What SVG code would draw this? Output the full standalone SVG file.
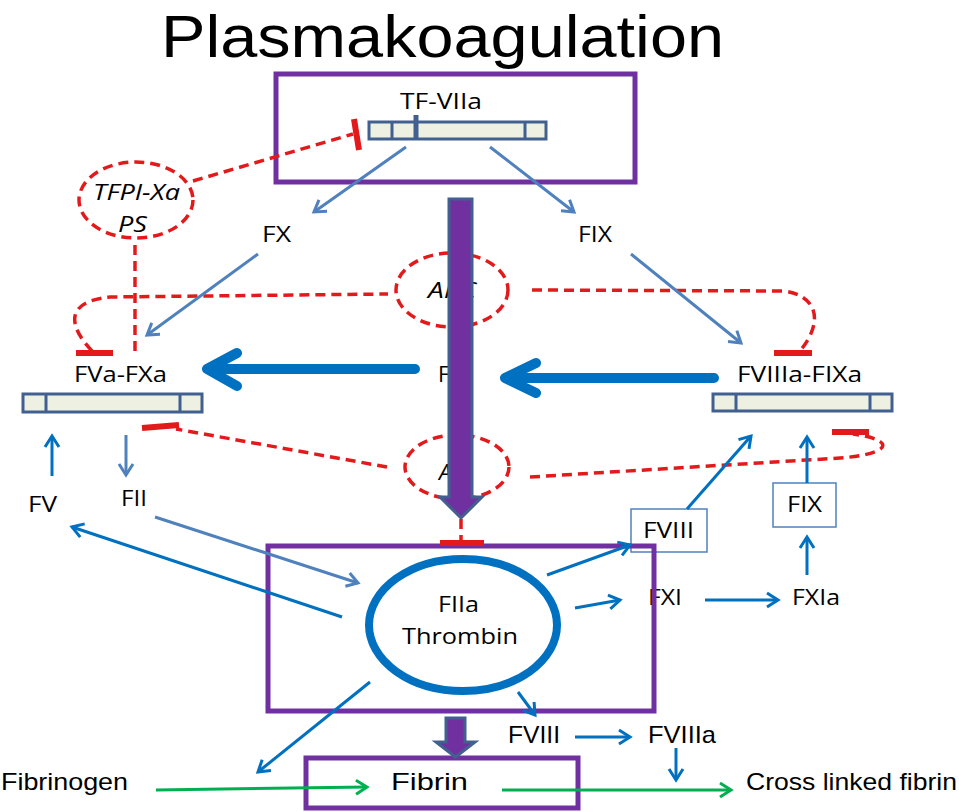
<svg xmlns="http://www.w3.org/2000/svg" width="959" height="812" viewBox="0 0 959 812">
<style>
.t{font-family:"Open Sans","Liberation Sans",sans-serif;font-size:22px;fill:#000}
.c{font-family:"Liberation Sans",sans-serif;font-size:24px;fill:#000}
.it{font-style:italic}
.pbox{fill:none;stroke:#7030A0;stroke-width:5}
.bar{fill:#EEF0E2;stroke:#41608F;stroke-width:3}
.div{stroke:#41608F;stroke-width:3}
.red{fill:none;stroke:#E31A1C;stroke-width:3.5;stroke-dasharray:10 6}
.inh{fill:#E31A1C;stroke:none}
.sb{fill:none;stroke:#4F81BD;stroke-width:3}
.bl{fill:none;stroke:#0070C0;stroke-width:3}
.gr{fill:none;stroke:#00B050;stroke-width:3}
.big{fill:none;stroke:#0070C0;stroke-width:10;stroke-linecap:round;stroke-linejoin:round}
.parr{fill:#7030A0;stroke:#41608F;stroke-width:3}
.sbox{fill:#fff;stroke:#4F81BD;stroke-width:1.5}
</style>
<defs>
<marker id="hsb" markerUnits="userSpaceOnUse" markerWidth="18" markerHeight="18" refX="14" refY="9" orient="auto"><path d="M3,2 L14,9 L3,16" fill="none" stroke="#4F81BD" stroke-width="3"/></marker>
<marker id="hbl" markerUnits="userSpaceOnUse" markerWidth="18" markerHeight="18" refX="14" refY="9" orient="auto"><path d="M3,2 L14,9 L3,16" fill="none" stroke="#0070C0" stroke-width="3"/></marker>
<marker id="hgr" markerUnits="userSpaceOnUse" markerWidth="18" markerHeight="18" refX="14" refY="9" orient="auto"><path d="M3,2 L14,9 L3,16" fill="none" stroke="#00B050" stroke-width="3"/></marker>
</defs>
<rect width="959" height="812" fill="#fff"/>
<text x="161" y="57" font-family="Liberation Sans, sans-serif" font-size="60" textLength="563" lengthAdjust="spacingAndGlyphs">Plasmakoagulation</text>

<g id="tf-viia">
<rect class="pbox" x="276" y="74" width="359" height="108"/>
<text class="t" x="400" y="109" textLength="82" lengthAdjust="spacingAndGlyphs">TF-VIIa</text>
<rect class="bar" x="369" y="122" width="177" height="17"/>
<line class="div" x1="392" y1="122" x2="392" y2="139"/>
<line class="div" x1="525" y1="122" x2="525" y2="139"/>
<line x1="416" y1="115" x2="416" y2="139" stroke="#41608F" stroke-width="5"/>
</g>
<g id="tfpi">
<ellipse class="red" cx="136" cy="200" rx="57" ry="38"/>
<text class="t it" x="93" y="200" textLength="87" lengthAdjust="spacingAndGlyphs">TFPI-Xa</text>
<text class="t it" x="118" y="232" textLength="29" lengthAdjust="spacingAndGlyphs">PS</text>
</g>
<g id="apc1">
<ellipse class="red" cx="452" cy="290" rx="56" ry="37"/>
<text class="t it" x="428" y="298" textLength="48" lengthAdjust="spacingAndGlyphs">APC</text>
</g>
<g id="apc2">
<ellipse class="red" cx="457" cy="467" rx="52" ry="32"/>
<text class="t it" x="439" y="480">A</text>
</g>
<g id="f-mid"><text class="t" x="438" y="382">F</text></g>
<g id="fx"><text class="t" x="262" y="242" textLength="29" lengthAdjust="spacingAndGlyphs">FX</text></g>
<g id="fix"><text class="t" x="578" y="242" textLength="34" lengthAdjust="spacingAndGlyphs">FIX</text></g>
<g id="fva-fxa">
<text class="t" x="74" y="382" textLength="93" lengthAdjust="spacingAndGlyphs">FVa-FXa</text>
<rect class="bar" x="23" y="394" width="179" height="18"/>
<line class="div" x1="46" y1="394" x2="46" y2="412"/>
<line class="div" x1="180" y1="394" x2="180" y2="412"/>
</g>
<g id="fviiia-fixa">
<text class="t" x="737" y="382" textLength="125" lengthAdjust="spacingAndGlyphs">FVIIIa-FIXa</text>
<rect class="bar" x="713" y="394" width="179" height="17"/>
<line class="div" x1="736" y1="394" x2="736" y2="411"/>
<line class="div" x1="870" y1="394" x2="870" y2="411"/>
</g>
<g id="fv"><text class="t" x="28" y="512" textLength="29" lengthAdjust="spacingAndGlyphs">FV</text></g>
<g id="fii"><text class="t" x="121" y="506" textLength="26" lengthAdjust="spacingAndGlyphs">FII</text></g>
<g id="fxi"><text class="t" x="648" y="605" textLength="34" lengthAdjust="spacingAndGlyphs">FXI</text></g>
<g id="fxia"><text class="t" x="792" y="605" textLength="48" lengthAdjust="spacingAndGlyphs">FXIa</text></g>
<g id="fviii-box">
<rect class="sbox" x="631" y="509" width="76" height="43"/>
<text class="t" x="643" y="538" textLength="51" lengthAdjust="spacingAndGlyphs">FVIII</text>
</g>
<g id="fix-box">
<rect class="sbox" x="773" y="483" width="63" height="44"/>
<text class="t" x="787" y="512" textLength="35" lengthAdjust="spacingAndGlyphs">FIX</text>
</g>
<g id="thrombin">
<rect class="pbox" x="268" y="546" width="386" height="165"/>
<ellipse cx="463" cy="625" rx="94" ry="66" fill="none" stroke="#0070C0" stroke-width="8"/>
<text class="t" x="438" y="612" textLength="41" lengthAdjust="spacingAndGlyphs">FIIa</text>
<text class="t" x="402" y="644" textLength="116" lengthAdjust="spacingAndGlyphs">Thrombin</text>
</g>
<g id="fviii-bottom"><text class="c" x="508" y="743" textLength="52" lengthAdjust="spacingAndGlyphs">FVIII</text></g>
<g id="fviiia"><text class="c" x="648" y="743" textLength="68" lengthAdjust="spacingAndGlyphs">FVIIIa</text></g>
<g id="fibrinogen"><text class="c" x="1" y="790" textLength="127" lengthAdjust="spacingAndGlyphs">Fibrinogen</text></g>
<g id="fibrin">
<rect class="pbox" x="306" y="758" width="272" height="50"/>
<text class="c" x="391" y="790" textLength="77" lengthAdjust="spacingAndGlyphs">Fibrin</text>
</g>
<g id="cross-linked"><text class="c" x="746" y="790" textLength="211" lengthAdjust="spacingAndGlyphs">Cross linked fibrin</text></g>

<g id="connectors">
<path class="red" d="M193,181 L353,134"/>
<line x1="354" y1="119" x2="359" y2="150" stroke="#E31A1C" stroke-width="6"/>
<path class="red" d="M135,245 L135,352"/>
<path class="red" d="M92,351 C72,330 60,302 110,297 L388,294"/>
<rect class="inh" x="76" y="350" width="37" height="6"/>
<path class="red" d="M532,290 L783,291 C818,295 824,322 800,351"/>
<rect class="inh" x="774" y="350" width="38" height="6"/>
<path class="red" d="M387,467 L176,429"/>
<line x1="142" y1="428" x2="179" y2="425" stroke="#E31A1C" stroke-width="6"/>
<path class="red" d="M530,477 L840,458 C892,454 897,440 853,434"/>
<rect class="inh" x="832" y="429" width="37" height="6"/>
<path class="red" d="M461,519 L461,541"/>
<rect class="inh" x="440" y="540" width="44" height="6"/>
<line class="sb" x1="406" y1="147" x2="314" y2="212" marker-end="url(#hsb)"/>
<line class="sb" x1="490" y1="147" x2="574" y2="212" marker-end="url(#hsb)"/>
<line class="sb" x1="258" y1="254" x2="147" y2="335" marker-end="url(#hsb)"/>
<line class="sb" x1="631" y1="254" x2="741" y2="343" marker-end="url(#hsb)"/>
<line class="sb" x1="126" y1="435" x2="126" y2="475" marker-end="url(#hsb)"/>
<line class="sb" x1="155" y1="517" x2="358" y2="583" marker-end="url(#hsb)"/>
<path class="big" d="M415,369 L207,369 M237,353 L207,369 L237,386"/>
<path class="big" d="M714,378 L505,378 M536,363 L505,378 L536,393"/>
<line class="bl" x1="52" y1="476" x2="52" y2="436" marker-end="url(#hbl)"/>
<line class="bl" x1="342" y1="617" x2="72" y2="527" marker-end="url(#hbl)"/>
<line class="bl" x1="547" y1="575" x2="630" y2="545" marker-end="url(#hbl)"/>
<line class="bl" x1="575" y1="608" x2="620" y2="600" marker-end="url(#hbl)"/>
<line class="bl" x1="687" y1="509" x2="751" y2="436" marker-end="url(#hbl)"/>
<line class="bl" x1="807" y1="483" x2="807" y2="437" marker-end="url(#hbl)"/>
<line class="bl" x1="807" y1="575" x2="807" y2="537" marker-end="url(#hbl)"/>
<line class="bl" x1="705" y1="600" x2="778" y2="600" marker-end="url(#hbl)"/>
<line class="bl" x1="370" y1="682" x2="258" y2="772" marker-end="url(#hbl)"/>
<line class="bl" x1="518" y1="692" x2="535" y2="715" marker-end="url(#hbl)"/>
<line class="bl" x1="575" y1="737" x2="630" y2="737" marker-end="url(#hbl)"/>
<line class="bl" x1="676" y1="748" x2="676" y2="780" marker-end="url(#hbl)"/>
<line class="gr" x1="156" y1="790" x2="367" y2="787" marker-end="url(#hgr)"/>
<line class="gr" x1="502" y1="790" x2="731" y2="790" marker-end="url(#hgr)"/>
<path class="parr" d="M449,199 L472,199 L472,497 L482,497 L461,518 L440,497 L449,497 Z"/>
<path class="parr" d="M446,718 L465,718 L465,742 L475,742 L455.5,757 L436,742 L446,742 Z"/>
</g>
</svg>
